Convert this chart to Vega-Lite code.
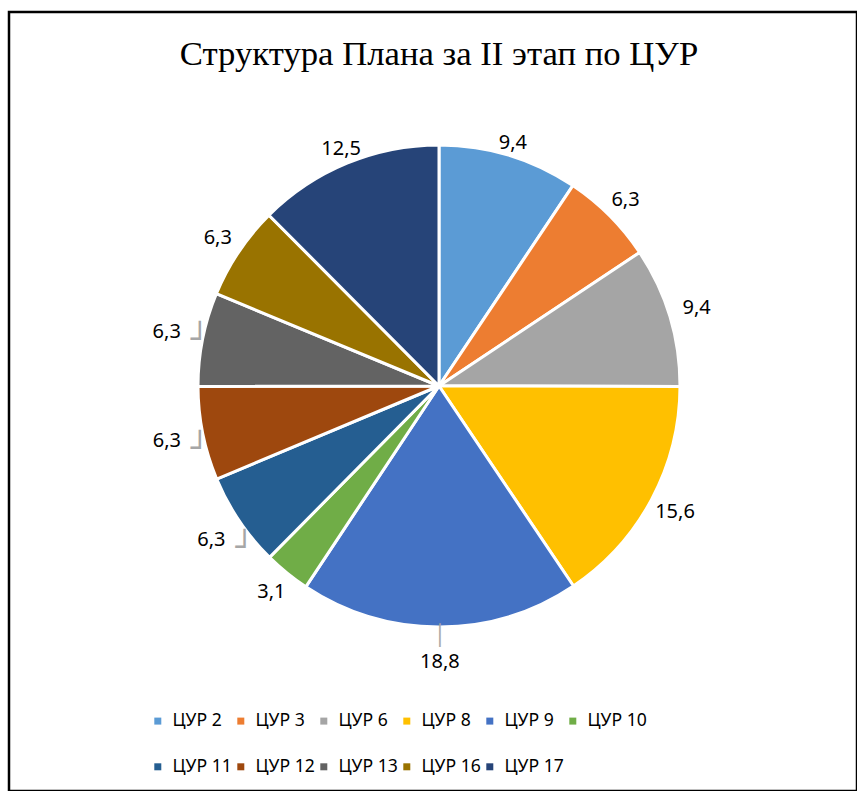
{
  "$schema": "https://vega.github.io/schema/vega-lite/v6.json",
  "autosize": {"type": "none"},
  "width": 848,
  "height": 779,
  "padding": {"left": 9, "top": 12, "right": 0, "bottom": 0},
  "background": "white",
  "view": {"stroke": "black", "strokeWidth": 2.5, "fill": "white"},
  "config": {
    "view": {"stroke": "black", "strokeWidth": 2.5},
    "font": "Noto Sans"
  },
  "title": {
    "text": "Структура Плана за II этап по ЦУР",
    "font": "Liberation Serif",
    "fontSize": 34.7,
    "fontWeight": "normal",
    "color": "black",
    "anchor": "middle",
    "frame": "group",
    "baseline": "alphabetic",
    "offset": 0,
    "dx": 6,
    "dy": 88
  },
  "data": {
    "values": [
      {"goal": "ЦУР 2", "num": 2, "value": 9.4, "label": "9,4"},
      {"goal": "ЦУР 3", "num": 3, "value": 6.3, "label": "6,3"},
      {"goal": "ЦУР 6", "num": 6, "value": 9.4, "label": "9,4"},
      {"goal": "ЦУР 8", "num": 8, "value": 15.6, "label": "15,6"},
      {"goal": "ЦУР 9", "num": 9, "value": 18.8, "label": "18,8"},
      {"goal": "ЦУР 10", "num": 10, "value": 3.1, "label": "3,1"},
      {"goal": "ЦУР 11", "num": 11, "value": 6.3, "label": "6,3"},
      {"goal": "ЦУР 12", "num": 12, "value": 6.3, "label": "6,3"},
      {"goal": "ЦУР 13", "num": 13, "value": 6.3, "label": "6,3"},
      {"goal": "ЦУР 16", "num": 16, "value": 6.3, "label": "6,3"},
      {"goal": "ЦУР 17", "num": 17, "value": 12.5, "label": "12,5"}
    ]
  },
  "encoding": {
    "theta": {"field": "value", "type": "quantitative", "stack": true},
    "order": {"field": "num", "type": "quantitative", "sort": "ascending"}
  },
  "layer": [
    {
      "mark": {
        "type": "arc",
        "radius": 241,
        "stroke": "white",
        "strokeWidth": 3,
        "x": {"expr": "width/2 + 6"},
        "y": {"expr": "height/2 - 15.5"}
      },
      "encoding": {
        "color": {
          "field": "goal",
          "type": "nominal",
          "scale": {
            "domain": ["ЦУР 2", "ЦУР 3", "ЦУР 6", "ЦУР 8", "ЦУР 9", "ЦУР 10", "ЦУР 11", "ЦУР 12", "ЦУР 13", "ЦУР 16", "ЦУР 17"],
            "range": ["#5B9BD5", "#ED7D31", "#A5A5A5", "#FFC000", "#4472C4", "#70AD47", "#255E91", "#9E480E", "#636363", "#997300", "#264478"]
          },
          "legend": {
            "title": null,
            "orient": "none",
            "legendX": 140,
            "legendY": 700,
            "direction": "horizontal",
            "columns": 6,
            "gridAlign": "all",
            "symbolType": "square",
            "symbolSize": 49,
            "symbolStrokeWidth": 0,
            "labelFont": "Noto Sans",
            "labelFontSize": 17.6,
            "labelColor": "black",
            "labelOffset": 6,
            "columnPadding": -5,
            "rowPadding": 27,
            "padding": 0
          }
        }
      }
    },
    {
      "mark": {
        "type": "text",
        "radius": {"expr": "248 + 22*abs(sin(scale('theta', 0.5*datum.value_start + 0.5*datum.value_end))) + 28*pow(max(0, -cos(scale('theta', 0.5*datum.value_start + 0.5*datum.value_end))), 8) + ((scale('theta', 0.5*datum.value_start + 0.5*datum.value_end) > 4.0 && scale('theta', 0.5*datum.value_start + 0.5*datum.value_end) < 5.06) ? 8 : 0)"},
        "fontSize": 20,
        "font": "Noto Sans",
        "color": "black",
        "align": "center",
        "baseline": "middle",
        "x": {"expr": "width/2 + 6"},
        "y": {"expr": "height/2 - 15.5"}
      },
      "encoding": {
        "text": {"field": "label", "type": "nominal"}
      }
    },
    {
      "mark": {
        "type": "text",
        "radius": {"expr": "248 + 22*abs(sin(scale('theta', 0.5*datum.value_start + 0.5*datum.value_end))) + 28*pow(max(0, -cos(scale('theta', 0.5*datum.value_start + 0.5*datum.value_end))), 8) + ((scale('theta', 0.5*datum.value_start + 0.5*datum.value_end) > 4.0 && scale('theta', 0.5*datum.value_start + 0.5*datum.value_end) < 5.06) ? 8 : 0)"},
        "text": {"expr": "abs(cos(scale('theta', 0.5*datum.value_start + 0.5*datum.value_end))) > 0.99 ? '│' : ((scale('theta', 0.5*datum.value_start + 0.5*datum.value_end) > 4.0 && scale('theta', 0.5*datum.value_start + 0.5*datum.value_end) < 5.06) ? '┘' : '')"},
        "dx": {"expr": "abs(cos(scale('theta', 0.5*datum.value_start + 0.5*datum.value_end))) > 0.99 ? 0 : 33"},
        "dy": {"expr": "abs(cos(scale('theta', 0.5*datum.value_start + 0.5*datum.value_end))) > 0.99 ? -20 : 17"},
        "fontSize": {"expr": "abs(cos(scale('theta', 0.5*datum.value_start + 0.5*datum.value_end))) > 0.99 ? 20 : 30"},
        "font": "DejaVu Sans",
        "color": "#A6A6A6",
        "align": "center",
        "baseline": "alphabetic",
        "x": {"expr": "width/2 + 6"},
        "y": {"expr": "height/2 - 15.5"}
      }
    }
  ]
}
